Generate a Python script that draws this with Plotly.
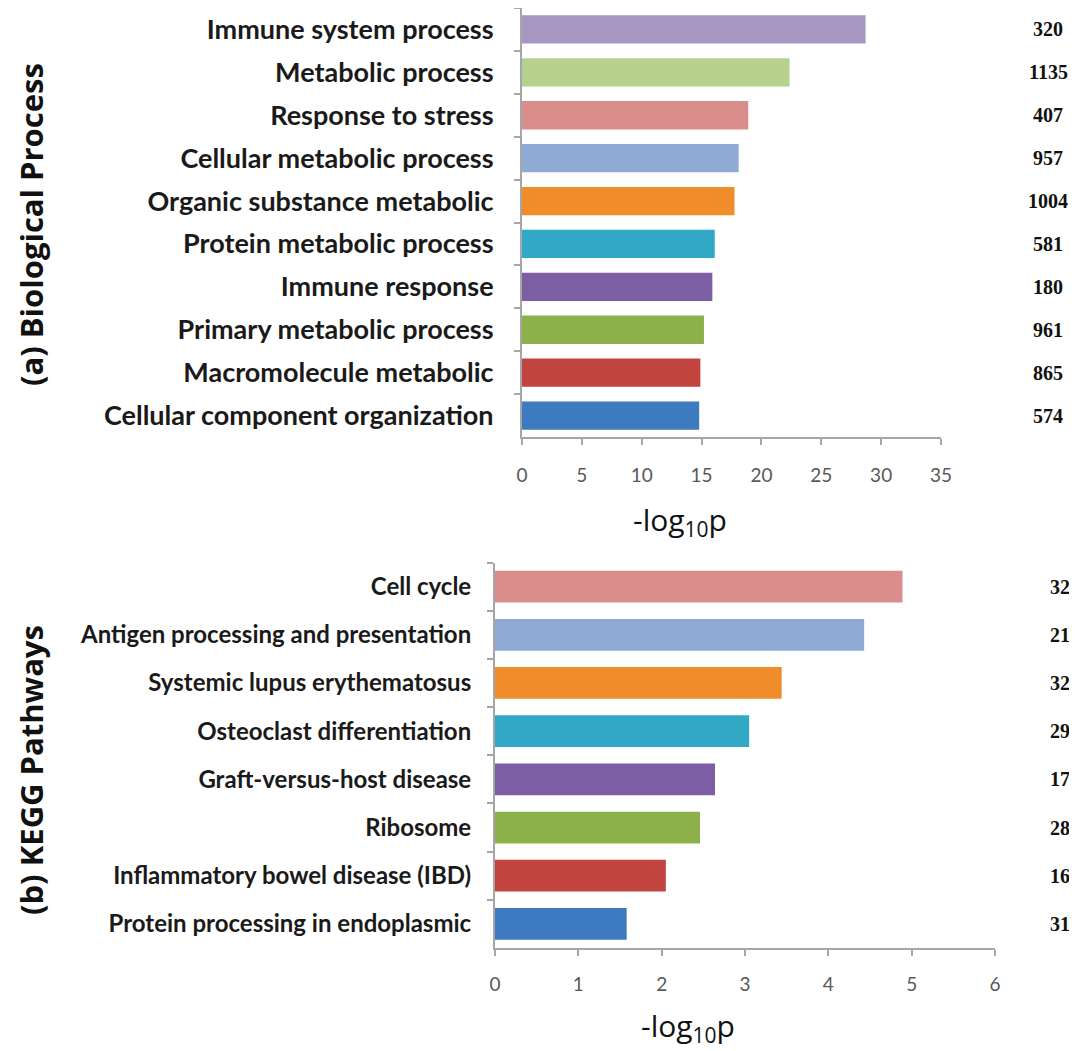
import plotly.graph_objects as go

bp_terms = ["Immune system process", "Metabolic process", "Response to stress",
            "Cellular metabolic process", "Organic substance metabolic",
            "Protein metabolic process", "Immune response", "Primary metabolic process",
            "Macromolecule metabolic", "Cellular component organization"]
bp_values = [28.7, 22.35, 18.9, 18.1, 17.75, 16.1, 15.9, 15.2, 14.9, 14.8]
bp_counts = [320, 1135, 407, 957, 1004, 581, 180, 961, 865, 574]
bp_colors = ["#a596c2", "#b7d08e", "#d98e8c", "#8faad5", "#f08c2a",
             "#31a9c6", "#7c5ea4", "#8db14a", "#c1443f", "#3e7ac0"]

kegg_terms = ["Cell cycle", "Antigen processing and presentation",
              "Systemic lupus erythematosus", "Osteoclast differentiation",
              "Graft-versus-host disease", "Ribosome",
              "Inflammatory bowel disease (IBD)", "Protein processing in endoplasmic"]
kegg_values = [4.89, 4.43, 3.44, 3.05, 2.64, 2.46, 2.05, 1.58]
kegg_counts = [32, 21, 32, 29, 17, 28, 16, 31]
kegg_colors = ["#d98e8c", "#8faad5", "#f08c2a", "#31a9c6",
               "#7c5ea4", "#8db14a", "#c1443f", "#3e7ac0"]

W, H = 1077, 1051
OFF = 8  # page body margin


def px(x):
    return min(1.0, max(0.0, (x - OFF) / W))


def py(y):
    return min(1.0, max(0.0, 1 - (y - OFF) / H))


tick_font = dict(family="Lato", size=19, color="#595959")

fig = go.Figure()
fig.add_trace(go.Bar(x=bp_values, y=bp_terms, orientation="h",
                     marker=dict(color=bp_colors, line=dict(width=0)),
                     xaxis="x", yaxis="y", showlegend=False))
fig.add_trace(go.Bar(x=kegg_values, y=kegg_terms, orientation="h",
                     marker=dict(color=kegg_colors, line=dict(width=0)),
                     xaxis="x2", yaxis="y2", showlegend=False))

axis_common = dict(showline=True, linecolor="#a6a6a6", linewidth=2,
                   ticks="outside", tickcolor="#a6a6a6", ticklen=6, tickwidth=2,
                   showgrid=False, zeroline=False, automargin=False)

annotations = []
for t, c in zip(bp_terms, bp_counts):
    annotations.append(dict(x=px(1048), xref="paper", y=t, yref="y", text=f"<b>{c}</b>",
                            showarrow=False, xanchor="center", yanchor="middle",
                            font=dict(family="Liberation Serif", size=20, color="#111")))
for t, c in zip(kegg_terms, kegg_counts):
    annotations.append(dict(x=px(1060), xref="paper", y=t, yref="y2", text=f"<b>{c}</b>",
                            showarrow=False, xanchor="center", yanchor="middle",
                            font=dict(family="Liberation Serif", size=20, color="#111")))

annotations += [
    dict(x=px(31), y=py(225), xref="paper", yref="paper", text="<b>(a) Biological Process</b>",
         textangle=-90, showarrow=False, xanchor="center", yanchor="middle",
         font=dict(family="Open Sans", size=31, color="#111")),
    dict(x=px(31), y=py(770), xref="paper", yref="paper", text="<b>(b) KEGG Pathways</b>",
         textangle=-90, showarrow=False, xanchor="center", yanchor="middle",
         font=dict(family="Open Sans", size=31, color="#111")),
    dict(x=px(680), y=py(521), xref="paper", yref="paper", text="-log<sub>10</sub>p",
         showarrow=False, xanchor="center", yanchor="middle",
         font=dict(family="Open Sans", size=30, color="#111")),
    dict(x=px(688), y=py(1027), xref="paper", yref="paper", text="-log<sub>10</sub>p",
         showarrow=False, xanchor="center", yanchor="middle",
         font=dict(family="Open Sans", size=30, color="#111")),
]

fig.update_layout(
    width=W, height=H, margin=dict(l=0, r=0, t=0, b=0),
    paper_bgcolor="white", plot_bgcolor="white",
    bargap=0.34,
    xaxis=dict(domain=[px(522), px(941)], range=[0, 35], dtick=5, anchor="y",
               tickfont=tick_font, ticklabelstandoff=14, **axis_common),
    yaxis=dict(domain=[py(437), py(8)], anchor="x", type="category",
               categoryorder="array", categoryarray=bp_terms, autorange="reversed",
               tickson="boundaries",
               tickfont=dict(family="Lato", size=27, color="#1a1a1a", weight="bold"),
               ticklabelstandoff=21, **axis_common),
    xaxis2=dict(domain=[px(495), px(995)], range=[0, 6], dtick=1, anchor="y2",
                tickfont=tick_font, ticklabelstandoff=12, **axis_common),
    yaxis2=dict(domain=[py(948), py(562.5)], anchor="x2", type="category",
                categoryorder="array", categoryarray=kegg_terms, autorange="reversed",
                tickson="boundaries",
                tickfont=dict(family="Lato", size=24, color="#1a1a1a", weight="bold"),
                ticklabelstandoff=17, **axis_common),
    annotations=annotations,
)

fig.write_html("out.html")
